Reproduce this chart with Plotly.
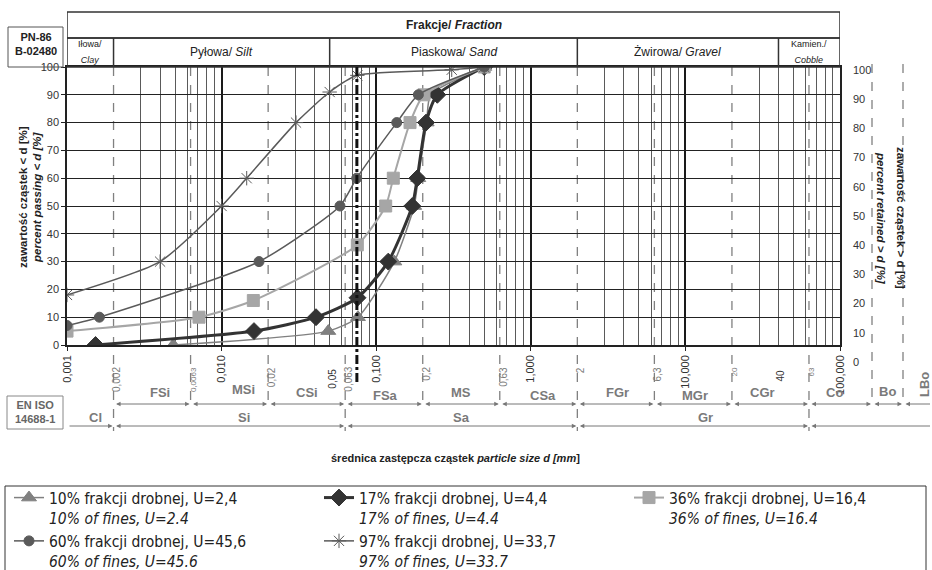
import math
import plotly.graph_objects as go

# ---------------- data ----------------
d10 = [0.00487, 0.049, 0.0762, 0.131, 0.176, 0.187, 0.212, 0.225, 0.5]
p10 = [0, 5, 10, 30, 50, 60, 80, 90, 100]

d17 = [0.00153, 0.0162, 0.0408, 0.0757, 0.1197, 0.1712, 0.1844, 0.2100, 0.2485, 0.5]
p17 = [0, 5, 10, 17, 30, 50, 60, 80, 90, 100]

d36 = [0.001, 0.00714, 0.01604, 0.0755, 0.1152, 0.129, 0.1655, 0.2037, 0.5]
p36 = [5, 10, 16, 36, 50, 60, 80, 90, 100]

d60 = [0.001, 0.00162, 0.01746, 0.0583, 0.0748, 0.1358, 0.1874, 0.5]
p60 = [7, 10, 30, 50, 60, 80, 90, 100]

d97 = [0.001, 0.0040, 0.01, 0.01453, 0.0303, 0.05, 0.0755, 0.308, 0.5]
p97 = [18, 30, 50, 60, 80, 91, 97, 99, 100]

series_names = [
    "10% frakcji drobnej, U=2,4<br><i>10% of fines, U=2.4</i>",
    "17% frakcji drobnej, U=4,4<br><i>17% of fines, U=4.4</i>",
    "36% frakcji drobnej, U=16,4<br><i>36% of fines, U=16.4</i>",
    "60% frakcji drobnej, U=45,6<br><i>60% of fines, U=45.6</i>",
    "97% frakcji drobnej, U=33,7<br><i>97% of fines, U=33.7</i>",
]

xtick_vals = [0.001, 0.01, 0.1, 1, 10, 100]
xtick_text = ["0,001", "0,010", "0,100", "1,000", "10,000", "100,000"]
ytick_vals = list(range(0, 101, 10))

pn_bounds = [0.001, 0.002, 0.05, 2, 40, 100]
pn_labels = ["<span style='font-size:9px'>Iłowa/<br><i>Clay</i></span>",
             "Pyłowa/ <i>Silt</i>", "Piaskowa/ <i>Sand</i>", "Żwirowa/ <i>Gravel</i>",
             "<span style='font-size:9px'>Kamien./<br><i>Cobble</i></span>"]

iso_bounds = [0.002, 0.0063, 0.02, 0.063, 0.2, 0.63, 2, 6.3, 20, 63]
iso_bound_text = ["0,002", "0,0063", "0,02", "0,063", "0,2", "0,63", "2", "6,3", "20", "63"]
iso_main_bounds = [0.002, 0.063, 2, 63]
pn_extra_vals = [0.05, 40]
pn_extra_text = ["0,05", "40"]
iso_sub_labels = ["FSi", "MSi", "CSi", "FSa", "MS", "CSa", "FGr", "MGr", "CGr"]
iso_main_ranges = [(0.001, 0.002), (0.002, 0.063), (0.063, 2), (2, 63)]
iso_main_labels = ["Cl", "Si", "Sa", "Gr"]
sieve_075 = 0.075

# label nudges (pixels) for the classification rows
sub_dx = [8, 14, 0, 2, 0, 4, 2, 2, -8]
sub_dy = [0, 3, 0, -3, 0, -3, 0, -3, 0]
main_dx = [5, 15, 0, 12]

# ---------------- geometry helpers (figure pixels -> paper) ----------------
W, H = 932, 570
L, R, T = 67, 840, 67
AX_BOTTOM = 345


def py(ypx):
    return (H - ypx) / H


def px(xpx):
    return xpx / W


def lg(v):
    return math.log10(v)


FONT = "Liberation Sans, Arial, sans-serif"
GRAYT = "#7a7a7a"

fig = go.Figure()

styles = [
    dict(color="#808080", width=1.5, symbol="triangle-up", size=13),
    dict(color="#333333", width=3, symbol="diamond", size=13),
    dict(color="#a6a6a6", width=2, symbol="square", size=12),
    dict(color="#5a5a5a", width=1.5, symbol="circle", size=10),
    dict(color="#5a5a5a", width=1.5, symbol="asterisk-open", size=12),
]
for (dx, dy), name, st in zip([(d10, p10), (d17, p17), (d36, p36), (d60, p60), (d97, p97)],
                              series_names, styles):
    fig.add_trace(go.Scatter(
        x=dx, y=dy, name=name, mode="lines+markers",
        line=dict(color=st["color"], width=st["width"], shape="spline", smoothing=0.6),
        marker=dict(symbol=st["symbol"], size=st["size"], color=st["color"],
                    line=dict(color=st["color"], width=1)),
    ))

# dummy trace for the right axis subplot
fig.add_trace(go.Scatter(x=[], y=[], xaxis="x2", yaxis="y2", showlegend=False))

shapes = []
annotations = []


def txt(text, x, y, xref="paper", size=12, color="#222", angle=0, xa="center", ya="middle"):
    return dict(xref=xref, yref="paper", x=x, y=y, showarrow=False, text=text, textangle=angle,
                xanchor=xa, yanchor=ya, font=dict(size=size, color=color, family=FONT))


# header rows
shapes.append(dict(type="rect", xref="x", yref="paper", x0=0.001, x1=100, y0=py(38), y1=py(12),
                   line=dict(color="#333", width=1.5)))
shapes.append(dict(type="rect", xref="x", yref="paper", x0=0.001, x1=100, y0=py(67), y1=py(38),
                   line=dict(color="#333", width=1.5)))
for b in pn_bounds[1:-1]:
    shapes.append(dict(type="line", xref="x", yref="paper", x0=b, x1=b, y0=py(67), y1=py(38),
                       line=dict(color="#333", width=1.5)))
annotations.append(txt("<b>Frakcje/ <i>Fraction</i></b>", px(454), py(25), size=12))
for i, lab in enumerate(pn_labels):
    mid = (lg(pn_bounds[i]) + lg(pn_bounds[i + 1])) / 2
    annotations.append(txt(lab, mid, py(52.5), xref="x", size=12))

# PN-86 box
shapes.append(dict(type="rect", xref="paper", yref="paper", x0=px(8), x1=px(63), y0=py(67), y1=py(27),
                   line=dict(color="#555", width=1)))
annotations.append(txt("<b>PN-86<br>B-02480</b>", px(35.5), py(44), size=11))

# EN ISO box
shapes.append(dict(type="rect", xref="paper", yref="paper", x0=px(7), x1=px(63), y0=py(429), y1=py(396),
                   line=dict(color="#888", width=1)))
annotations.append(txt("<b>EN ISO<br>14688-1</b>", px(35), py(412.5), size=11, color="#666"))

# ISO dashed boundaries
for b in iso_bounds:
    bottom = 431 if b in iso_main_bounds else 406
    shapes.append(dict(type="line", xref="x", yref="paper", x0=b, x1=b, y0=py(T), y1=py(bottom),
                       line=dict(color="#808080", width=1.3, dash="dash"), layer="below"))
for xp in (872, 903):
    shapes.append(dict(type="line", xref="paper", yref="paper", x0=px(xp), x1=px(xp), y0=py(64), y1=py(406),
                       line=dict(color="#808080", width=1.3, dash="dash"), layer="below"))

# 0.075 sieve line
shapes.append(dict(type="line", xref="x", yref="paper", x0=sieve_075, x1=sieve_075, y0=py(T), y1=py(383),
                   line=dict(color="#111", width=3, dash="dashdot")))

# legend box
shapes.append(dict(type="rect", xref="paper", yref="paper", x0=px(5), x1=px(926), y0=py(486), y1=py(575),
                   line=dict(color="#333", width=1)))

# boundary labels
for v, t in zip(iso_bounds, iso_bound_text):
    sz = 8 if t in ("0,0063", "20", "63") else 10
    a = txt(t, lg(v), py(365), xref="x", size=sz, color=GRAYT, angle=-90, ya="top")
    a["xshift"] = 3
    annotations.append(a)
for v, t in zip(pn_extra_vals, pn_extra_text):
    a = txt(t, lg(v), py(367), xref="x", size=10, color="#333", angle=-90, ya="top")
    a["xshift"] = 2
    annotations.append(a)

# sub fraction labels
for i, lab in enumerate(iso_sub_labels):
    mid = (lg(iso_bounds[i]) + lg(iso_bounds[i + 1])) / 2
    a = txt("<b>%s</b>" % lab, mid, py(393), xref="x", size=13, color=GRAYT)
    a["xshift"] = sub_dx[i]
    a["yshift"] = sub_dy[i]
    annotations.append(a)
annotations.append(txt("<b>Co</b>", px(834), py(393), size=13, color=GRAYT))
annotations.append(txt("<b>Bo</b>", px(887), py(391), size=13, color=GRAYT))
annotations.append(txt("<b>LBo</b>", px(924), py(385), size=13, color=GRAYT, angle=-90))
for i, ((a0, b0), lab) in enumerate(zip(iso_main_ranges, iso_main_labels)):
    mid = (lg(a0) + lg(b0)) / 2
    a = txt("<b>%s</b>" % lab, mid, py(417), xref="x", size=13, color=GRAYT)
    a["xshift"] = main_dx[i]
    annotations.append(a)


def arrow_data(a, b, ypix, side="end+start"):
    return dict(xref="x", yref="paper", x=lg(b), y=py(ypix), axref="x", ayref="pixel",
                ax=lg(a), ay=0, showarrow=True, text="", arrowside=side,
                arrowhead=2, startarrowhead=2, arrowsize=0.9, startarrowsize=0.9,
                arrowwidth=1, arrowcolor="#777", standoff=1, startstandoff=1)


def arrow_pix(x0, x1, ypix, side="end+start"):
    return dict(xref="paper", yref="paper", x=px(x1), y=py(ypix), axref="pixel", ayref="pixel",
                ax=x0 - x1, ay=0, showarrow=True, text="", arrowside=side,
                arrowhead=2, startarrowhead=2, arrowsize=0.9, startarrowsize=0.9,
                arrowwidth=1, arrowcolor="#777", standoff=1, startstandoff=1)


for a, b in zip(iso_bounds[:-1], iso_bounds[1:]):
    annotations.append(arrow_data(a, b, 404))
annotations.append(arrow_pix(809, 872, 404))
annotations.append(arrow_pix(872, 903, 404))
annotations.append(arrow_pix(903, 940, 404, side="start"))

annotations.append(arrow_data(0.001, 0.002, 426, side="end"))
for a, b in zip(iso_main_bounds[:-1], iso_main_bounds[1:]):
    annotations.append(arrow_data(a, b, 426))
annotations.append(arrow_pix(809, 940, 426, side="start"))

# axis titles
annotations.append(txt("<b>średnica zastępcza cząstek <i>particle size d [mm</i>]</b>", px(455), py(458), size=11))
annotations.append(txt("<b>zawartość cząstek &lt; d [%]</b>", px(23), py(197), size=11.5, angle=-90))
annotations.append(txt("<b><i>percent passing &lt; d [%]</i></b>", px(37), py(197), size=11.5, angle=-90))
annotations.append(txt("<b>zawartość cząstek &gt; d [%]</b>", px(901), py(218), size=11.5, angle=90))
annotations.append(txt("<b><i>percent retained &gt; d [%]</i></b>", px(881), py(218), size=11.5, angle=90))

minor_vals = [m * 10 ** e for e in range(-3, 2) for m in range(3, 10)]

fig.update_layout(
    width=W, height=H,
    margin=dict(l=0, r=0, t=0, b=0, autoexpand=False),
    paper_bgcolor="white", plot_bgcolor="rgba(0,0,0,0)",
    font=dict(family=FONT, size=11, color="#333"),
    shapes=shapes, annotations=annotations,
    showlegend=True,
    legend=dict(orientation="h", x=px(9), y=py(481), xanchor="left", yanchor="top",
                entrywidth=265, entrywidthmode="pixels", valign="top",
                font=dict(family="DejaVu Sans Condensed, " + FONT, size=15.5, color="#222"),
                bgcolor="rgba(0,0,0,0)", borderwidth=0, tracegroupgap=0, itemwidth=30),
    xaxis=dict(type="log", range=[-3, 2], domain=[px(L), px(R)], anchor="y",
               tickvals=xtick_vals, ticktext=xtick_text, tickangle=-90,
               ticks="outside", ticklen=4, tickcolor="#222",
               tickfont=dict(size=11, color="#333"),
               showgrid=True, gridcolor="#1a1a1a", gridwidth=2,
               minor=dict(tickvals=minor_vals, showgrid=True, gridcolor="#5a5a5a", gridwidth=1, ticks=""),
               showline=True, linecolor="#222", linewidth=1.5, mirror=True, zeroline=False),
    yaxis=dict(range=[0, 100], domain=[py(AX_BOTTOM), py(T)], anchor="x",
               tickvals=ytick_vals, ticks="outside", ticklen=4, tickcolor="#222",
               tickfont=dict(size=11, color="#333"),
               showgrid=True, gridcolor="#222", gridwidth=1,
               showline=True, linecolor="#222", linewidth=1.5, mirror=True, zeroline=False),
    xaxis2=dict(domain=[px(L), px(R)], anchor="y2", range=[0, 1], visible=False),
    yaxis2=dict(range=[0, 100], domain=[py(362), py(70)], anchor="x2", side="right",
                tickvals=ytick_vals, showgrid=False, showline=False, zeroline=False,
                ticks="", ticklabelstandoff=12, tickfont=dict(size=11, color="#333")),
)

fig.write_html("out.html", config={"displayModeBar": False},
               post_script="document.body.style.margin='0';document.body.style.overflow='hidden';")
